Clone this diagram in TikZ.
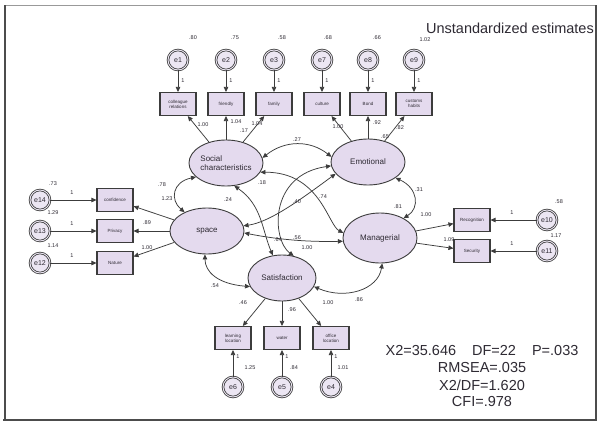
\documentclass[tikz,border=0pt]{standalone}
\usepackage{fontspec}
\setmainfont{Liberation Sans}
\usetikzlibrary{shapes.geometric,arrows.meta}
\definecolor{lav}{HTML}{E4DAEE}
\definecolor{lavlight}{HTML}{ECE6F3}
\definecolor{edge}{HTML}{3C3C3C}
\definecolor{txt}{HTML}{2E2A33}

\begin{document}
\begin{tikzpicture}[x=1pt,y=-1pt,
  latent/.style={ellipse,draw=edge,fill=lav,line width=0.9pt,minimum width=74pt,
    minimum height=46pt,inner sep=0pt,font=\fontsize{8}{9}\selectfont,text=txt},
  obsbox/.style={rectangle,draw=edge,fill=lav,line width=1.1pt,minimum width=36pt,
    minimum height=23pt,inner sep=1pt,font=\fontsize{4.5}{5}\selectfont,align=center,text=txt},
  errc/.style={circle,draw=edge,fill=lavlight,line width=0.8pt,double=lavlight,
    double distance=0.9pt,minimum size=20pt,inner sep=0pt,font=\fontsize{7}{8}\selectfont,text=txt},
  reg/.style={-{Triangle[length=5pt,width=4.5pt]},draw=edge,line width=0.75pt},
  cov/.style={{Triangle[length=5pt,width=4.5pt]}-{Triangle[length=5pt,width=4.5pt]},
    draw=edge,line width=0.75pt},
  est/.style={font=\fontsize{5.5}{6}\selectfont,text=txt,inner sep=0.5pt},
  stat/.style={font=\fontsize{14.5}{15}\selectfont,text=txt,inner sep=0pt},
]
\useasboundingbox (0,0) rectangle (597,423);

% frame
\fill[white] (5,5) rectangle (596,419);
\draw[gray!80,line width=1pt] (5,5) -- (596,5);
\draw[black!70,line width=1.2pt] (5,5) -- (5,420);
\draw[black!70,line width=1.2pt] (596,5) -- (596,420);
\draw[black!70,line width=2.5pt] (3,420) -- (597,420);

% latent variables
\node[latent,align=left] (soc) at (226,163) {Social\\characteristics};
\node[latent] (emo) at (368,162) {Emotional};
\node[latent] (spc) at (207,231) {space};
\node[latent,minimum height=50pt] (man) at (380,238) {Managerial};
\node[latent,minimum width=68pt] (sat) at (282,278) {Satisfaction};

% top indicators
\node[obsbox] (o1) at (178,104) {colleague\\relations};
\node[obsbox] (o2) at (226,104) {friendly};
\node[obsbox] (o3) at (274,104) {family};
\node[obsbox] (o4) at (322,104) {culture};
\node[obsbox] (o5) at (368,104) {Bond};
\node[obsbox] (o6) at (414,104) {customs\\habits};
\node[errc] (e1) at (178,60) {e1};
\node[errc] (e2) at (226,60) {e2};
\node[errc] (e3) at (274,60) {e3};
\node[errc] (e7) at (322,60) {e7};
\node[errc] (e8) at (368,60) {e8};
\node[errc] (e9) at (414,60) {e9};

% left indicators
\node[obsbox] (l1) at (115,200) {confidence};
\node[obsbox] (l2) at (115,231) {Privacy};
\node[obsbox] (l3) at (115,263) {Nature};
\node[errc] (e14) at (40,200) {e14};
\node[errc] (e13) at (40,231) {e13};
\node[errc] (e12) at (40,263) {e12};

% right indicators
\node[obsbox] (r1) at (472,220) {Recognition};
\node[obsbox] (r2) at (472,251) {Security};
\node[errc] (e10) at (547,220) {e10};
\node[errc] (e11) at (547,251) {e11};

% bottom indicators
\node[obsbox] (b1) at (233,338) {learning\\location};
\node[obsbox] (b2) at (282,338) {water};
\node[obsbox] (b3) at (331,338) {office\\location};
\node[errc] (e6) at (233,387) {e6};
\node[errc] (e5) at (282,387) {e5};
\node[errc] (e4) at (331,387) {e4};

% error paths
\foreach \e/\o in {e1/o1,e2/o2,e3/o3,e7/o4,e8/o5,e9/o6,e14/l1,e13/l2,e12/l3,
                   e10/r1,e11/r2,e6/b1,e5/b2,e4/b3}
  \draw[reg] (\e) -- (\o);

% factor loadings
\foreach \o in {o1,o2,o3} \draw[reg] (soc) -- (\o);
\foreach \o in {o4,o5,o6} \draw[reg] (emo) -- (\o);
\foreach \o in {l1,l2,l3} \draw[reg] (spc) -- (\o);
\foreach \o in {r1,r2} \draw[reg] (man) -- (\o);
\foreach \o in {b1,b2,b3} \draw[reg] (sat) -- (\o);

% covariances
\draw[cov] (soc.8) .. controls (285,140) and (310,140) .. (emo.172);
\draw[cov] (soc.205) .. controls (172,182) and (170,200) .. (spc.140);
\draw[cov] (emo.-30) .. controls (418,188) and (420,208) .. (man.40);
\draw[cov] (spc.-95) .. controls (205,272) and (218,284) .. (sat.195);
\draw[cov] (sat.-15) .. controls (345,300) and (378,290) .. (man.-85);
\draw[cov] (soc.-15) .. controls (320,172) and (328,225) .. (man.172);
\draw[cov] (emo.200) .. controls (300,200) and (270,222) .. (spc.8);
\draw[cov] (soc.-70) .. controls (262,205) and (262,230) .. (sat.112);
\draw[cov] (emo.186) .. controls (268,175) and (272,240) .. (sat.62);
\draw[cov] (spc.-3) .. controls (280,240) and (310,242) .. (man.185);

% estimates: error variances
\node[est] (v1) at (193,38) {.80};
\node[est] (v2) at (235,38) {.75};
\node[est] (v3) at (282,38) {.58};
\node[est] (v7) at (328,38) {.68};
\node[est] (v8) at (377,38) {.66};
\node[est] (v9) at (425,40) {1.02};
\node[est] (v14) at (53,184) {.73};
\node[est] (v13) at (53,213) {1.29};
\node[est] (v12) at (53,246) {1.14};
\node[est] (v10) at (559,202) {.58};
\node[est] (v11) at (556,236) {1.17};
\node[est] (v6) at (250,368) {1.25};
\node[est] (v5) at (294,368) {.84};
\node[est] (v4) at (343,368) {1.01};

% estimates: fixed paths
\foreach \x in {183,231,279,327,373,419} \node[est] at (\x,81) {1};
\node[est] (f14) at (72,193) {1};
\node[est] (f13) at (72,224) {1};
\node[est] (f12) at (72,256) {1};
\node[est] (f10) at (512,213) {1};
\node[est] (f11) at (512,244) {1};
\node[est] (f6) at (238,357) {1};
\node[est] (f5) at (287,357) {1};
\node[est] (f4) at (336,357) {1};

% estimates: loadings and factor variances
\node[est] (w1) at (203,125) {1.00};
\node[est] (w2) at (236,122) {1.04};
\node[est] (w3) at (257,124) {1.04};
\node[est] (vs) at (244,131) {.17};
\node[est] (w4) at (338,127) {1.00};
\node[est] (w5) at (377,123) {.92};
\node[est] (w6) at (400,128) {.82};
\node[est] (ve) at (385,137) {.65};
\node[est] (w7) at (167,199) {1.23};
\node[est] (w8) at (147,223) {.89};
\node[est] (w9) at (147,248) {1.00};
\node[est] (vsp) at (228,200) {.24};
\node[est] (w10) at (426,215) {1.00};
\node[est] (w11) at (449,240) {1.09};
\node[est] (vm) at (398,207) {.81};
\node[est] (w12) at (243,303) {.46};
\node[est] (w13) at (292,310) {.96};
\node[est] (w14) at (328,303) {1.00};
\node[est] (vsa) at (307,248) {1.00};

% estimates: covariances
\node[est] (c1) at (297,140) {.27};
\node[est] (c2) at (162,185) {.78};
\node[est] (c3) at (419,190) {.31};
\node[est] (c4) at (215,286) {.54};
\node[est] (c5) at (359,300) {.86};
\node[est] (c6) at (297,202) {.40};
\node[est] (c7) at (323,197) {.74};
\node[est] (c8) at (278,240) {.64};
\node[est] (c9) at (297,238) {.56};
\node[est] (c10) at (262,183) {.18};

% title and fit indices
\node[stat,anchor=east] (title) at (594,28) {Unstandardized estimates};
\node[stat] (fit1) at (482,351) {X2=35.646\hspace{16pt}DF=22\hspace{16pt}P=.033};
\node[stat] (fit2) at (482,368) {RMSEA=.035};
\node[stat] (fit3) at (482,385) {X2/DF=1.620};
\node[stat] (fit4) at (482,402) {CFI=.978};
\end{tikzpicture}
\end{document}
